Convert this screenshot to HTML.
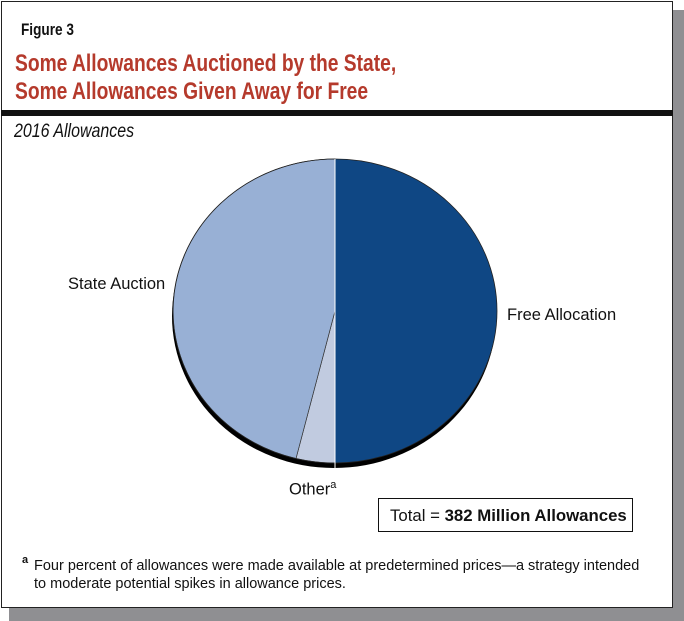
<!DOCTYPE html>
<html><head><meta charset="utf-8"><style>
body{margin:0;width:684px;height:621px;background:#fff;position:relative;overflow:hidden;font-family:"Liberation Sans",Arial,sans-serif}
.t{position:absolute;white-space:nowrap}
.sx{transform-origin:0 0}
</style></head><body>
<div style="position:absolute;left:9px;top:10px;width:675px;height:611px;background:#8f8f92"></div>
<div style="position:absolute;left:1px;top:1px;width:670px;height:605px;background:#fff;border:1px solid #222"></div>
<div style="position:absolute;left:1px;top:110px;width:672px;height:6px;background:#111"></div>
<div class="t sx" style="left:21px;top:20px;font-size:17px;font-weight:bold;color:#111;transform:scaleX(0.8)">Figure 3</div>
<div class="t sx" style="left:15px;top:50px;font-size:24.5px;font-weight:bold;color:#b53a2c;line-height:28px;transform:scaleX(0.785)">Some Allowances Auctioned by the State,<br>Some Allowances Given Away for Free</div>
<div class="t sx" style="left:14px;top:121px;font-size:19px;font-style:italic;color:#111;transform:scaleX(0.84)">2016 Allowances</div>
<svg style="position:absolute;left:0;top:0" width="684" height="621">
<ellipse cx="334" cy="316" rx="162" ry="152" fill="#000"/>
<path d="M335,311 L335,159 A162,152 0 0 1 335,463 Z" fill="#0f4784"/>
<path d="M335,311 L335,463 A162,152 0 0 1 296,458.5 Z" fill="#c1cbe0" stroke="#333" stroke-width="0.7"/>
<path d="M335,311 L296,458.5 A162,152 0 0 1 335,159 Z" fill="#98b0d5" stroke="#333" stroke-width="0.7"/>
<ellipse cx="335" cy="311" rx="162" ry="152" fill="none" stroke="#222" stroke-width="0.8"/>
<line x1="335" y1="159" x2="335" y2="468" stroke="#fff" stroke-width="1"/>
</svg>
<div class="t" style="left:68px;top:275px;font-size:16.5px;color:#111">State Auction</div>
<div class="t" style="left:507px;top:306px;font-size:16.5px;color:#111">Free Allocation</div>
<div class="t" style="left:289px;top:479px;font-size:16.5px;color:#111">Other<sup style="font-size:11px">a</sup></div>
<div style="position:absolute;left:378px;top:498px;width:255px;height:34px;border:1.5px solid #111;box-sizing:border-box"></div>
<div class="t" style="left:390px;top:506px;font-size:16.8px;color:#111">Total = <b>382 Million Allowances</b></div>
<div class="t" style="left:22px;top:554px;font-size:11px;color:#111;font-weight:bold">a</div>
<div class="t" style="left:34px;top:557px;font-size:14.5px;color:#111;line-height:18px">Four percent of allowances were made available at predetermined prices—a strategy intended<br>to moderate potential spikes in allowance prices.</div>
</body></html>
